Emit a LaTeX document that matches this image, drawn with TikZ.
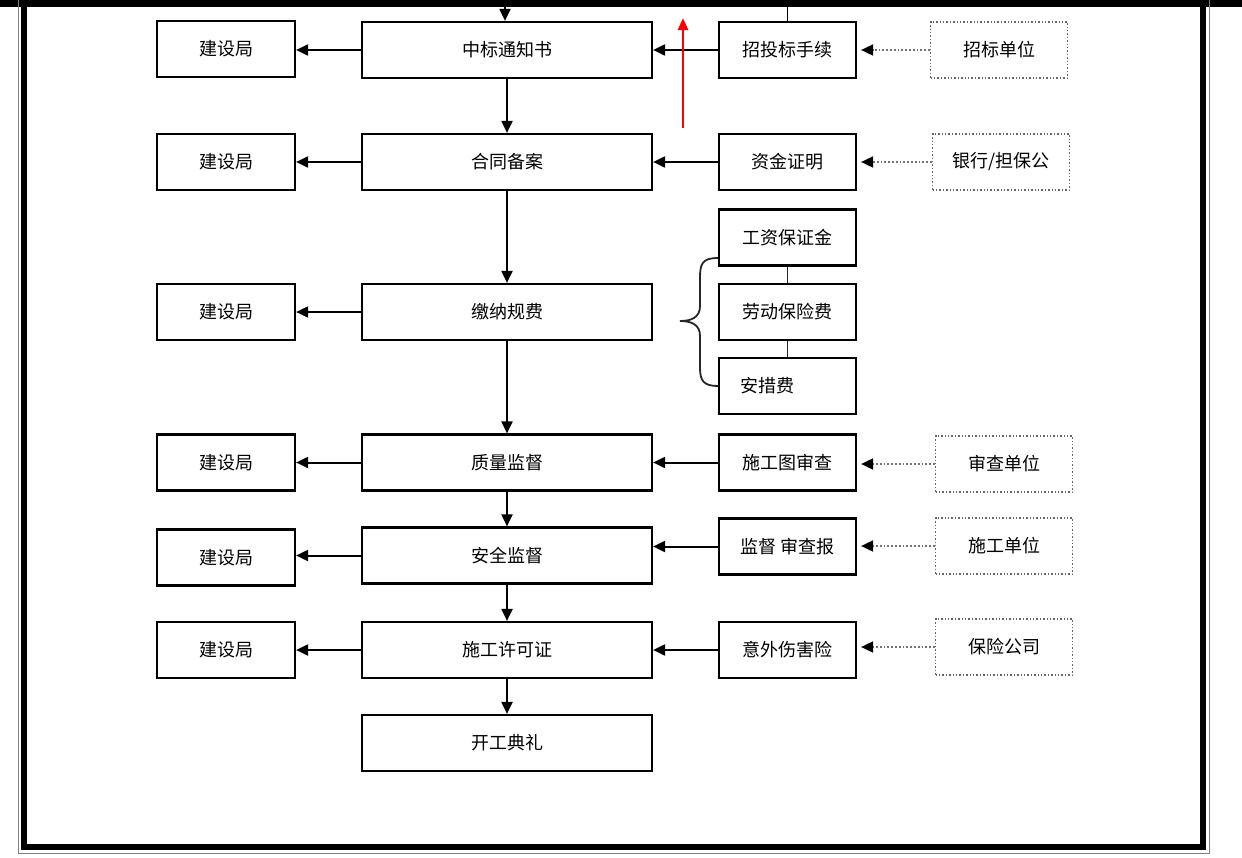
\documentclass[tikz,border=0pt]{standalone}
\usepackage{fontspec}
\setmainfont{Noto Sans CJK SC}
\usetikzlibrary{arrows.meta, positioning}

\tikzset{
  stepbox/.style={draw, line width=2.2pt, minimum width=290pt, minimum height=56pt, inner sep=0pt},
  govbox/.style={draw, line width=2.2pt, minimum width=138pt, minimum height=56pt, inner sep=0pt},
  sidebox/.style={draw, line width=2.2pt, minimum width=137pt, minimum height=56pt, inner sep=0pt},
  unitbox/.style={draw=black!60, dotted, line width=1.4pt, minimum width=137pt, minimum height=56pt, inner sep=0pt},
  flow/.style={line width=2pt, -{Triangle[length=12pt,width=11pt]}},
  hint/.style={black!55, dotted, line width=1.8pt, shorten >=4pt, -{Triangle[length=12pt,width=11pt,fill=black,color=black]}},
  link/.style={line width=1.8pt, black!85}
}

\begin{document}
\begin{tikzpicture}[x=1pt, y=-1pt, font=\fontsize{18}{20}\selectfont]
  \useasboundingbox (0,0) rectangle (1242,857);

  % frame
  \fill (0,0) rectangle (1242,7);
  \draw[gray, line width=1pt] (18,0) |- (1209,853) -- (1209,0);
  \draw[line width=6pt] (24,0) |- (1203,847) -- (1203,0);

  % main column
  \node[stepbox] (zb) at (507,50)    {中标通知书};
  \node[stepbox] (ht) at (507,162)   {合同备案};
  \node[stepbox] (jn) at (507,312)   {缴纳规费};
  \node[stepbox] (zl) at (507,462.5) {质量监督};
  \node[stepbox] (aq) at (507,555.5) {安全监督};
  \node[stepbox] (xk) at (507,650)   {施工许可证};
  \node[stepbox] (kg) at (507,743)   {开工典礼};

  % left column
  \node[govbox] (j1) at (226,49)    {建设局};
  \node[govbox] (j2) at (226,162)   {建设局};
  \node[govbox] (j3) at (226,312)   {建设局};
  \node[govbox] (j4) at (226,462.5) {建设局};
  \node[govbox] (j5) at (226,557.5) {建设局};
  \node[govbox] (j6) at (226,650)   {建设局};

  % right column
  \node[sidebox] (zt) at (787.5,50)    {招投标手续};
  \node[sidebox] (zj) at (787.5,162)   {资金证明};
  \node[sidebox] (gz) at (787.5,237.5) {工资保证金};
  \node[sidebox] (ld) at (787.5,312)   {劳动保险费};
  \node[sidebox, text width=95pt, align=left] (ac) at (787.5,386) {安措费};
  \node[sidebox] (sc) at (787.5,462.5) {施工图审查};
  \node[sidebox] (jd) at (787.5,546.5) {监督 审查报};
  \node[sidebox] (yw) at (787.5,650)   {意外伤害险};

  % outside units
  \node[unitbox] (u1) at (999,50)  {招标单位};
  \node[unitbox] (u2) at (1001,162) {银行/担保公};
  \node[unitbox] (u3) at (1004,464) {审查单位};
  \node[unitbox] (u4) at (1004,546) {施工单位};
  \node[unitbox] (u5) at (1004,647) {保险公司};

  \coordinate (topin) at (505,0);
  \coordinate (ztop) at (789,0);
  \coordinate (red1) at (683,128);
  \coordinate (red2) at (683,18);

  % flow down
  \draw[flow] (topin) -- (zb.north -| topin);
  \draw[flow] (zb) -- (ht);
  \draw[flow] (ht) -- (jn);
  \draw[flow] (jn) -- (zl);
  \draw[flow] (zl) -- (aq);
  \draw[flow] (aq) -- (xk);
  \draw[flow] (xk) -- (kg);

  % to the bureau
  \foreach \m/\j in {zb/j1, ht/j2, jn/j3, zl/j4, aq/j5, xk/j6}
    \draw[flow] (\m.west) -- (\j.east |- \m.west);

  % from the right
  \foreach \r/\m in {zt/zb, zj/ht, sc/zl, jd/aq, yw/xk}
    \draw[flow] (\r.west) -- (\m.east |- \r.west);
  \foreach \u/\r in {u1/zt, u2/zj, u3/sc, u4/jd, u5/yw}
    \draw[hint] (\u.west) -- (\r.east |- \u.west);

  \draw[link, black] (zt.north) -- (zt.north |- ztop);
  \draw[link] (gz) -- (ld);
  \draw[link] (ld) -- (ac);
  \draw[link] (718,258) .. controls (702,258) and (700,264) .. (700,278) -- (700,306)
    .. controls (700,317) and (692,321) .. (680,321)
    .. controls (692,321) and (700,325) .. (700,336) -- (700,368)
    .. controls (700,381) and (704,386) .. (718,386);

  \draw[red, line width=2.5pt, -{Triangle[length=12pt,width=10pt]}] (red1) -- (red2);
\end{tikzpicture}
\end{document}
